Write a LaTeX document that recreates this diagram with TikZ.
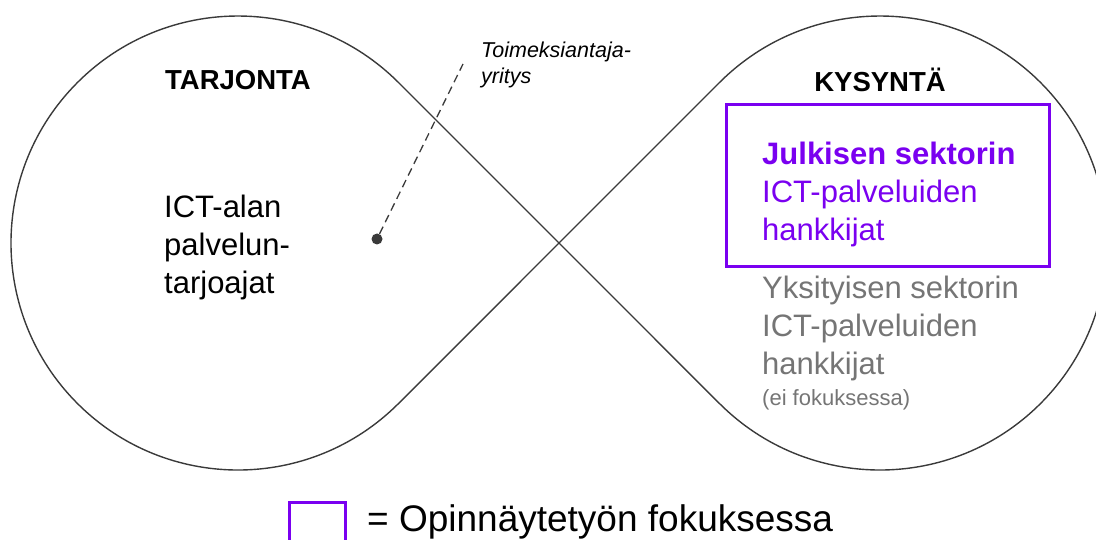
\documentclass[tikz,border=0pt]{standalone}
\usepackage{fontspec}
\setmainfont{Liberation Sans}
\usetikzlibrary{positioning}
\definecolor{fokusviol}{HTML}{7A00F0}
\definecolor{harmaa}{HTML}{757575}
\definecolor{viiva}{HTML}{3A3A3A}
\begin{document}
\begin{tikzpicture}[x=1pt,y=1pt]
	\tikzstyle{silmukka} = [draw=viiva, line width=1.4pt, line join=round]
	\tikzstyle{otsikko} = [font=\fontsize{27.5}{30}\selectfont\bfseries, inner sep=0pt]
	\tikzstyle{teksti} = [font=\fontsize{31}{38}\selectfont, align=left, anchor=west, inner sep=0pt]
	\tikzstyle{fokus} = [draw=fokusviol, line width=3pt]
	\tikzstyle{viite} = [draw=viiva, dash pattern=on 8pt off 5pt, line width=1.3pt]
\useasboundingbox (0,0) rectangle (1096,539);
\clip (0,0) rectangle (1096,539);
% infinity shape
\coordinate (risti) at (559,296);
\path [silmukka] (risti) -- (398.5,456.5) arc[start angle=45, end angle=315, radius=227]
	-- (risti) -- (719.5,456.5) arc[start angle=135, end angle=-135, radius=227] -- cycle;
\node [otsikko] at (238,459) (tarjonta) {TARJONTA};
\node [otsikko] at (880,459) (kysynta) {KYSYNTÄ};
\node [teksti] at (164,292) (tarjoajat) {ICT-alan\\palvelun-\\tarjoajat};
\node [font=\fontsize{21.5}{26}\selectfont\itshape, align=left, anchor=west, inner sep=0pt] at (481,474) (toimeksi) {Toimeksiantaja-\\yritys};
\node [circle, fill=viiva, inner sep=0pt, minimum size=11pt] at (377,300) (piste) {};
\coordinate (viitepaa) at (463,475);
\path [viite] (piste) -- (viitepaa);
\draw [fokus] (726,434) rectangle (1049,272);
\node [teksti, text=fokusviol] at (762,345) (julkinen) {\textbf{Julkisen sektorin}\\ICT-palveluiden\\hankkijat};
\node [teksti, text=harmaa] at (762,211) (yksityinen) {Yksityisen sektorin\\ICT-palveluiden\\hankkijat};
\node [teksti, text=harmaa, font=\fontsize{22}{24}\selectfont] at (762,139) (eifokus) {(ei fokuksessa)};
% legend
\draw [fokus] (289,-10) rectangle (345,37);
\node [teksti, text=black, font=\fontsize{37}{40}\selectfont] at (367,17) (selite) {= Opinnäytetyön fokuksessa};
\end{tikzpicture}
\end{document}
